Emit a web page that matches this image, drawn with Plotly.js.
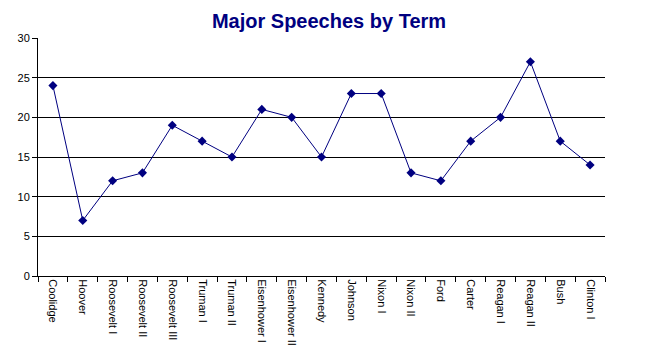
<!DOCTYPE html>
<html><head><meta charset="utf-8">
<script src="https://cdn.plot.ly/plotly-3.0.1.min.js"></script>
<style>html,body{margin:0;padding:0;background:#fff}#c{width:658px;height:356px}</style>
</head><body><div id="c"></div>
<script>
const terms = ["Coolidge","Hoover","Roosevelt I","Roosevelt II","Roosevelt III","Truman I","Truman II","Eisenhower I","Eisenhower II","Kennedy","Johnson","Nixon I","Nixon II","Ford","Carter","Reagan I","Reagan II","Bush","Clinton I"];
const speeches = [24,7,12,13,19,17,15,21,20,15,23,23,13,12,17,20,27,17,14];
const yTicks = [0,5,10,15,20,25,30];

Plotly.newPlot('c', [{
  x: terms, y: speeches, type: 'scatter', mode: 'lines+markers',
  line: {color: '#000080', width: 1},
  marker: {symbol: 'diamond', size: 7, color: '#000080'}
}], {
  width: 658, height: 356,
  margin: {l: 38, r: 53, t: 38, b: 80},
  paper_bgcolor: '#fff', plot_bgcolor: '#fff',
  showlegend: false,
  title: {text: 'Major Speeches by Term', font: {family: 'Liberation Sans, Arial', size: 20, color: '#000080', weight: 'bold'}, x: 0.5, xanchor: 'center', y: 0.96, yanchor: 'top'},
  font: {family: 'Liberation Sans, Arial', size: 11, color: '#000'},
  xaxis: {type: 'category', tickangle: 90, tickson: 'boundaries', ticks: 'outside', ticklen: 5, tickcolor: '#000',
    showline: true, linecolor: '#000', linewidth: 1, showgrid: false, zeroline: false,
    tickfont: {size: 11}, range: [-0.5, 18.5]},
  yaxis: {range: [0, 30], tickvals: yTicks, ticks: 'outside', ticklen: 5, tickcolor: '#000',
    showline: true, linecolor: '#000', linewidth: 1, showgrid: true, gridcolor: '#000', gridwidth: 1, zeroline: false,
    tickfont: {size: 11}}
}, {displayModeBar: false, staticPlot: true});
</script></body></html>
